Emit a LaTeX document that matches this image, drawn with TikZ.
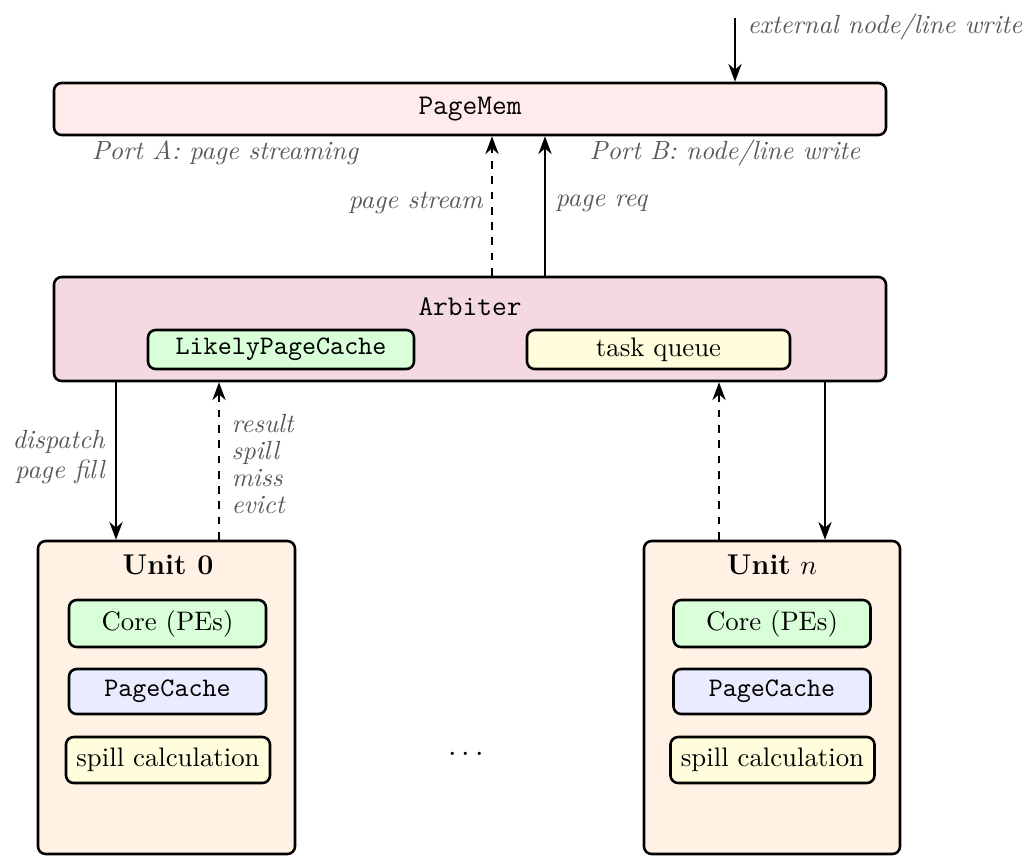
\documentclass[tikz,border=0pt]{standalone}
\usetikzlibrary{arrows.meta}
\newcommand{\pxu}{0.3922pt}
\begin{document}
\fontsize{10.5pt}{12.6pt}\selectfont
\begin{tikzpicture}[x=0.3922pt,y=-0.3922pt,
  box/.style={draw,line width=1pt,rounded corners=3pt,inner sep=0pt},
  title/.style={font=\fontsize{11.2pt}{13pt}\selectfont},
  lbl/.style={font=\fontsize{10.3pt}{12.4pt}\selectfont\itshape,text=black!65,inner sep=0pt},
  flow/.style={thick,-{Stealth[length=7pt,width=5.2pt]}},
  back/.style={thick,dashed,-{Stealth[length=7pt,width=5.2pt]}}]
\useasboundingbox (0,0) rectangle (1026,856);

% memory and arbiter
\node[box,title,fill=red!8,minimum width=832*\pxu,minimum height=52*\pxu] (mem) at (470,109) {\texttt{PageMem}};
\node[box,fill=purple!15,minimum width=832*\pxu,minimum height=104*\pxu] (arb) at (470,329) {};
\node[title] (arbT) at (470,307) {\texttt{Arbiter}};
\node[box,fill=green!15,minimum width=266*\pxu,minimum height=39*\pxu] (lpc) at (281,349.5) {\texttt{LikelyPageCache}};
\node[box,fill=yellow!14,minimum width=263*\pxu,minimum height=39*\pxu] (tq) at (658.5,349.5) {task queue};

% processing units
\node[box,fill=orange!10,minimum width=257*\pxu,minimum height=313*\pxu] (u0) at (166.5,697.5) {};
\node[title] (u0T) at (168,565) {\textbf{Unit 0}};
\node[box,fill=green!15,minimum width=197*\pxu,minimum height=47*\pxu] (core0) at (167.5,623.5) {Core (PEs)};
\node[box,fill=blue!8,minimum width=197*\pxu,minimum height=45*\pxu] (pc0) at (167.5,691.5) {\texttt{PageCache}};
\node[box,fill=yellow!14,minimum width=204*\pxu,minimum height=46*\pxu] (sp0) at (168,760) {spill calculation};

\node[box,fill=orange!10,minimum width=256*\pxu,minimum height=313*\pxu] (un) at (772,697.5) {};
\node[title] (unT) at (772,565) {\textbf{Unit} $n$};
\node[box,fill=green!15,minimum width=197*\pxu,minimum height=47*\pxu] (coren) at (772,623.5) {Core (PEs)};
\node[box,fill=blue!8,minimum width=197*\pxu,minimum height=45*\pxu] (pcn) at (772,691.5) {\texttt{PageCache}};
\node[box,fill=yellow!14,minimum width=204*\pxu,minimum height=46*\pxu] (spn) at (772.5,760) {spill calculation};

\node[font=\fontsize{12.5pt}{15pt}\selectfont] (dots) at (466,755) {$\cdots$};

% labels
\node[lbl,anchor=west] (extL) at (747,27) {external node/line write};
\node[lbl] (portA) at (225,153) {Port A: page streaming};
\node[lbl] (portB) at (725,153) {Port B: node/line write};
\node[lbl,anchor=east] (psL) at (483,203) {page stream};
\node[lbl,anchor=west] (prL) at (555,203) {page req};
\node[lbl,anchor=east,align=right] (dispL) at (105,457) {dispatch\\[-0.6pt]page fill};
\node[lbl,anchor=west,align=left] (resL) at (231,464) {result\\[-1.8pt]spill\\[-1.8pt]miss\\[-1.8pt]evict};

% connector columns
\coordinate (extTop) at (735,18);
\coordinate (colS) at (492,0);
\coordinate (colR) at (545,0);
\coordinate (colL1) at (116,0);
\coordinate (colL2) at (219,0);
\coordinate (colR1) at (719,0);
\coordinate (colR2) at (825,0);

\draw[flow] (extTop) -- (extTop |- mem.north);
\draw[back] (arb.north -| colS) -- (mem.south -| colS);
\draw[flow] (arb.north -| colR) -- (mem.south -| colR);
\draw[flow] (arb.south -| colL1) -- (u0.north -| colL1);
\draw[back] (u0.north -| colL2) -- (arb.south -| colL2);
\draw[back] (un.north -| colR1) -- (arb.south -| colR1);
\draw[flow] (arb.south -| colR2) -- (un.north -| colR2);
\end{tikzpicture}
\end{document}
